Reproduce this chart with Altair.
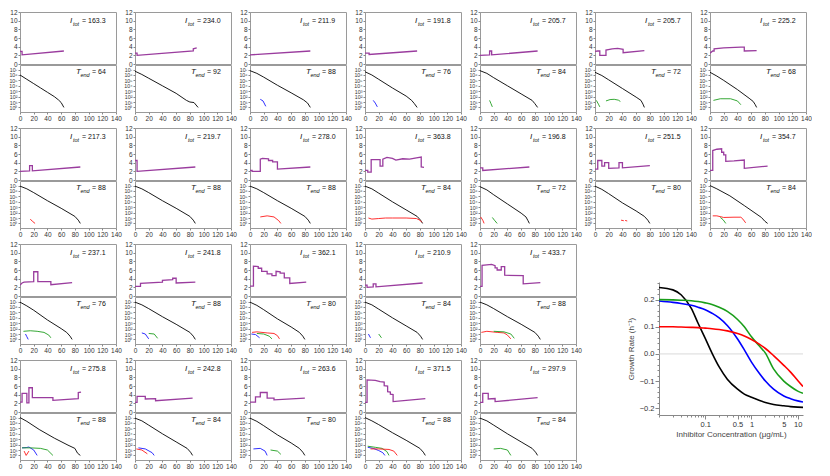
import altair as alt
import pandas as pd

FONT = "Liberation Sans"
PURPLE = "#9a3c9e"
COLS = {"k": "#000000", "b": "#1a1aff", "g": "#1f9e1f", "r": "#ff1a1a"}

itot = [163.3, 234.0, 211.9, 191.8, 205.7, 205.7, 225.2,
        217.3, 219.7, 278.0, 363.8, 196.8, 251.5, 354.7,
        237.1, 241.8, 362.1, 210.9, 433.7,
        275.8, 242.8, 263.6, 371.5, 297.9]
tend = [64, 92, 88, 76, 84, 72, 68,
        88, 88, 88, 84, 72, 80, 84,
        76, 88, 80, 84, 88,
        88, 84, 80, 88, 84]

dose = [
    [(0, 2.9), (3, 2.9), (3, 2.1), (64, 3.0)],
    [(0, 2.5), (3, 2.5), (3, 2.0), (85, 3.0), (85, 3.5), (90, 3.7)],
    [(0, 2.1), (88, 3.0)],
    [(0, 2.5), (6, 2.5), (6, 2.2), (76, 3.0)],
    [(0, 2.0), (14, 2.1), (14, 3.0), (17, 3.0), (17, 2.1), (84, 3.0)],
    [(0, 2.9), (4, 3.0), (7, 3.0), (7, 2.0), (16, 2.0), (16, 3.2), (25, 3.5), (33, 3.6), (41, 3.4), (41, 2.6), (72, 3.1)],
    [(0, 2.5), (4, 3.0), (6, 3.0), (6, 3.5), (20, 3.7), (45, 3.9), (50, 3.9), (50, 3.0), (68, 3.1)],
    [(0, 2.0), (14, 2.1), (14, 3.3), (18, 3.3), (18, 2.1), (88, 3.0)],
    [(0, 4.5), (3, 4.5), (3, 2.0), (88, 3.0)],
    [(0, 2.2), (3, 2.2), (3, 2.0), (15, 2.0), (15, 4.8), (18, 5.0), (27, 4.9), (27, 4.5), (33, 4.5), (33, 4.2), (40, 4.2), (40, 2.5), (88, 3.0)],
    [(0, 2.2), (4, 2.2), (4, 1.8), (9, 1.8), (9, 4.7), (22, 4.7), (22, 3.2), (26, 3.2), (26, 4.8), (32, 5.2), (40, 5.0), (45, 4.6), (55, 4.9), (65, 4.8), (75, 5.1), (82, 5.3), (82, 3.0), (86, 2.9)],
    [(0, 2.8), (4, 2.8), (4, 2.2), (72, 3.0)],
    [(0, 2.5), (4, 2.5), (4, 4.5), (10, 4.5), (10, 3.2), (14, 3.2), (14, 4.0), (20, 4.0), (20, 2.7), (35, 2.8), (35, 4.0), (40, 4.0), (40, 2.8), (80, 3.3)],
    [(0, 2.2), (4, 2.2), (4, 6.8), (10, 7.1), (17, 7.2), (17, 6.4), (20, 6.4), (20, 5.8), (23, 5.8), (23, 4.3), (35, 4.4), (50, 4.6), (50, 2.7), (84, 3.2)],
    [(0, 2.5), (3, 3.0), (6, 3.2), (20, 3.3), (20, 5.6), (26, 5.6), (26, 3.3), (45, 3.3), (45, 2.6), (76, 3.1)],
    [(0, 2.2), (8, 2.2), (8, 2.9), (40, 3.2), (40, 3.6), (55, 3.8), (55, 4.1), (60, 4.1), (60, 3.0), (88, 3.2)],
    [(0, 2.3), (5, 2.3), (5, 6.9), (12, 6.8), (12, 6.4), (17, 6.4), (17, 5.7), (25, 5.7), (25, 5.1), (32, 5.1), (32, 4.7), (38, 4.7), (38, 5.7), (44, 5.6), (44, 5.3), (50, 5.3), (50, 4.2), (58, 4.2), (58, 2.9), (82, 3.2)],
    [(0, 2.5), (3, 2.5), (3, 2.0), (12, 2.1), (12, 2.8), (16, 2.8), (16, 2.1), (84, 3.0)],
    [(0, 2.2), (3, 2.2), (3, 7.1), (10, 7.2), (17, 7.3), (22, 7.0), (22, 6.5), (25, 6.5), (25, 6.0), (31, 6.0), (31, 6.8), (36, 6.8), (36, 4.8), (63, 4.7), (63, 2.8), (88, 3.1)],
    [(0, 2.3), (3, 2.3), (3, 4.3), (10, 4.3), (10, 2.1), (13, 2.1), (13, 5.6), (18, 5.6), (18, 3.3), (48, 3.3), (48, 2.7), (85, 3.1), (85, 4.5), (89, 4.6)],
    [(0, 2.2), (3, 2.2), (3, 3.6), (15, 3.6), (15, 3.0), (30, 3.1), (30, 2.6), (84, 3.2)],
    [(0, 2.3), (8, 2.3), (8, 3.5), (15, 3.5), (15, 4.5), (25, 4.5), (25, 3.2), (35, 3.2), (35, 2.8), (80, 3.2)],
    [(0, 2.2), (3, 2.2), (3, 7.4), (15, 7.3), (22, 7.0), (28, 6.9), (28, 6.1), (33, 6.0), (33, 4.7), (37, 4.6), (37, 4.1), (41, 4.0), (41, 2.4), (88, 3.1)],
    [(0, 2.2), (4, 2.2), (4, 4.3), (12, 4.3), (12, 3.0), (22, 3.1), (22, 2.4), (84, 3.3)],
]

black = [
    [(0, 6.0), (10, 5.2), (20, 4.4), (30, 3.6), (40, 2.8), (50, 2.0), (56, 1.4), (60, 0.9), (64, 0.0)],
    [(0, 6.7), (10, 6.1), (20, 5.4), (40, 4.0), (60, 2.6), (75, 1.3), (80, 1.0), (86, 0.9), (92, 0.0)],
    [(0, 6.8), (10, 6.3), (20, 5.6), (40, 4.1), (60, 2.7), (78, 1.4), (84, 0.8), (88, 0.0)],
    [(0, 6.6), (10, 6.0), (20, 5.2), (40, 3.6), (60, 2.1), (68, 1.3), (72, 0.7), (76, 0.0)],
    [(0, 6.8), (10, 6.3), (20, 5.5), (40, 4.0), (60, 2.5), (76, 1.3), (80, 0.7), (84, 0.0)],
    [(0, 6.5), (10, 5.9), (20, 5.1), (40, 3.5), (60, 1.9), (67, 1.3), (70, 0.6), (72, 0.0)],
    [(0, 6.5), (10, 5.8), (20, 5.0), (40, 3.3), (57, 1.7), (63, 1.1), (66, 0.5), (68, 0.0)],
    [(0, 6.9), (10, 6.4), (20, 5.7), (40, 4.2), (60, 2.8), (80, 1.3), (85, 0.6), (88, 0.0)],
    [(0, 6.9), (10, 6.4), (20, 5.7), (40, 4.2), (60, 2.8), (80, 1.3), (85, 0.6), (88, 0.0)],
    [(0, 6.9), (10, 6.4), (20, 5.7), (40, 4.2), (60, 2.8), (80, 1.3), (85, 0.6), (88, 0.0)],
    [(0, 6.9), (10, 6.4), (20, 5.6), (40, 4.0), (60, 2.5), (76, 1.3), (81, 0.6), (84, 0.0)],
    [(0, 6.8), (10, 6.2), (20, 5.3), (40, 3.6), (60, 1.9), (67, 1.2), (70, 0.5), (72, 0.0)],
    [(0, 6.9), (10, 6.3), (20, 5.5), (40, 3.8), (60, 2.3), (72, 1.3), (77, 0.6), (80, 0.0)],
    [(0, 7.0), (10, 6.4), (29, 5.1), (50, 3.3), (75, 1.1), (80, 0.4), (84, 0.0)],
    [(0, 6.9), (10, 6.2), (20, 5.4), (40, 3.6), (60, 2.0), (68, 1.3), (73, 0.6), (76, 0.0)],
    [(0, 6.9), (10, 6.4), (20, 5.7), (40, 4.2), (60, 2.8), (80, 1.3), (85, 0.6), (88, 0.0)],
    [(0, 6.9), (10, 6.3), (20, 5.5), (40, 3.8), (60, 2.3), (72, 1.3), (77, 0.6), (80, 0.0)],
    [(0, 6.9), (10, 6.4), (20, 5.6), (40, 4.0), (60, 2.5), (76, 1.3), (81, 0.6), (84, 0.0)],
    [(0, 6.9), (10, 6.4), (20, 5.7), (40, 4.2), (60, 2.8), (80, 1.3), (85, 0.6), (88, 0.0)],
    [(0, 7.0), (10, 6.3), (28, 4.8), (50, 3.2), (70, 1.9), (80, 1.3), (84, 0.4), (88, 0.0)],
    [(0, 6.9), (10, 6.4), (20, 5.6), (40, 4.0), (60, 2.5), (76, 1.3), (81, 0.6), (84, 0.0)],
    [(0, 6.9), (10, 6.3), (20, 5.5), (40, 3.8), (60, 2.3), (72, 1.3), (77, 0.6), (80, 0.0)],
    [(0, 7.0), (10, 6.4), (20, 5.7), (40, 4.2), (60, 2.8), (80, 1.3), (85, 0.6), (88, 0.0)],
    [(0, 6.9), (10, 6.4), (20, 5.6), (40, 4.0), (60, 2.5), (76, 1.3), (81, 0.6), (84, 0.0)],
]

extra = [
    [],
    [],
    [("b", [(15, 1.5), (19, 1.2), (23, 0.2)])],
    [("b", [(12, 1.3), (15, 0.8), (18, 0.1)])],
    [("g", [(14, 1.3), (16, 0.7), (18, 0.1)])],
    [("g", [(2, 1.3), (5, 0.6), (7, 0.1)]), ("g", [(16, 1.2), (22, 1.45), (28, 1.5), (34, 1.35), (37, 1.1)])],
    [("g", [(5, 1.3), (15, 1.6), (30, 1.6), (40, 1.2), (45, 0.5)])],
    [("r", [(15, 0.8), (18, 0.4), (22, 0.0)])],
    [],
    [("r", [(15, 1.2), (25, 1.4), (35, 1.2), (42, 0.5), (45, 0.0)])],
    [("r", [(5, 1.0), (10, 0.8), (20, 0.9), (30, 1.0), (40, 1.0), (60, 1.0), (75, 0.9), (80, 0.6), (83, 0.2)])],
    [("r", [(1, 1.2), (4, 0.6), (6, 0.0)]), ("g", [(18, 1.1), (21, 0.6), (25, 0.0)])],
    [("r", [(38, 0.6), (42, 0.5)]), ("r", [(44, 0.55), (47, 0.45)])],
    [("r", [(4, 1.4), (10, 1.4), (20, 1.1), (35, 1.15), (45, 1.15), (48, 0.8), (52, 0.1)]), ("g", [(15, 1.1), (19, 0.7), (23, 0.0)])],
    [("b", [(8, 1.0), (10, 0.5), (12, 0.0)]), ("g", [(5, 1.5), (15, 1.6), (25, 1.5), (35, 1.3), (42, 0.8), (45, 0.3)])],
    [("b", [(10, 1.2), (15, 1.0), (20, 0.1)]), ("g", [(20, 1.1), (28, 1.0), (33, 0.2)])],
    [("r", [(3, 1.3), (10, 1.4), (25, 1.2), (35, 1.1), (40, 0.7), (43, 0.1)]), ("b", [(2, 1.0), (8, 0.9), (14, 0.3)]), ("g", [(10, 1.1), (20, 1.0), (28, 0.6), (32, 0.1)])],
    [("b", [(5, 1.0), (8, 0.3)]), ("g", [(20, 1.0), (24, 0.3)])],
    [("r", [(2, 1.3), (10, 1.5), (25, 1.3), (35, 1.2), (40, 0.8), (45, 0.1)]), ("g", [(20, 1.5), (35, 1.4), (45, 1.0), (50, 0.2)])],
    [("r", [(6, 0.8), (9, 0.0), (13, 0.8)]), ("b", [(3, 1.4), (9, 1.45), (13, 1.55), (20, 1.0), (25, 0.0)]), ("g", [(3, 1.4), (15, 1.4), (30, 1.3), (40, 1.0), (48, 0.0)])],
    [("r", [(2, 1.2), (10, 1.0), (18, 0.3)]), ("b", [(5, 1.4), (15, 1.2), (25, 0.5), (28, 0.0)])],
    [("b", [(5, 1.2), (15, 1.3), (22, 0.8), (25, 0.0)]), ("g", [(30, 1.0), (40, 0.8), (45, 0.2)])],
    [("b", [(4, 1.5), (12, 1.3), (20, 0.9), (26, 0.5), (29, 0.0)]), ("g", [(4, 1.7), (15, 1.5), (25, 1.3), (32, 0.7), (35, 0.0)]), ("r", [(8, 1.2), (20, 1.2), (35, 1.1), (42, 0.8), (47, 0.0)])],
    [("g", [(20, 1.2), (30, 1.3), (40, 1.0), (45, 0.0)])],
]

# Growth-rate panel
conc = [0.01, 0.02, 0.03, 0.05, 0.07, 0.1, 0.14, 0.2, 0.3, 0.5, 0.7, 1, 1.5, 2, 3, 5, 7, 10, 13]
rate_black = [0.245, 0.236, 0.218, 0.168, 0.113, 0.057, 0.003, -0.048, -0.093, -0.13, -0.148, -0.16, -0.172, -0.179, -0.186, -0.191, -0.194, -0.196, -0.197]
rate_blue = [0.195, 0.19, 0.186, 0.179, 0.172, 0.163, 0.15, 0.133, 0.105, 0.055, 0.015, -0.03, -0.073, -0.1, -0.13, -0.155, -0.165, -0.173, -0.177]
rate_green = [0.2, 0.199, 0.198, 0.196, 0.193, 0.188, 0.182, 0.172, 0.157, 0.127, 0.1, 0.063, 0.028, 0.003, -0.055, -0.1, -0.12, -0.137, -0.145]
rate_red = [0.1, 0.1, 0.099, 0.098, 0.097, 0.095, 0.093, 0.09, 0.085, 0.075, 0.066, 0.053, 0.035, 0.02, -0.006, -0.042, -0.067, -0.098, -0.12]

x_ticks = [0.01, 0.02, 0.03, 0.04, 0.05, 0.06, 0.07, 0.08, 0.09,
           0.1, 0.2, 0.3, 0.4, 0.5, 0.6, 0.7, 0.8, 0.9,
           1, 2, 3, 4, 5, 6, 7, 8, 9, 10]
y_ticks = [-0.22, -0.2, -0.18, -0.16, -0.14, -0.12, -0.1, -0.08, -0.06, -0.04, -0.02, 0,
           0.02, 0.04, 0.06, 0.08, 0.1, 0.12, 0.14, 0.16, 0.18, 0.2, 0.22, 0.24, 0.26]

W, HT, HB = 96, 52, 47
SUP = "['⁰','¹','²','³','⁴','⁵','⁶','⁷']"


def txt(s, x, y, size, italic=False):
    kw = dict(align="left", baseline="alphabetic", fontSize=size, font=FONT, color="#111")
    if italic:
        kw["fontStyle"] = "italic"
    return alt.Chart(pd.DataFrame({"s": [s]})).mark_text(**kw).encode(
        text="s:N", x=alt.value(x), y=alt.value(y))


def panel(k):
    d = pd.DataFrame({"t": [p[0] for p in dose[k]], "y": [p[1] for p in dose[k]],
                      "i": list(range(len(dose[k])))})
    top_line = alt.Chart(d).mark_line(color=PURPLE, strokeWidth=1.3, clip=True).encode(
        x=alt.X("t:Q", scale=alt.Scale(domain=[0, 140], nice=False), axis=None),
        y=alt.Y("y:Q", scale=alt.Scale(domain=[0, 12], nice=False),
                axis=alt.Axis(values=list(range(0, 13, 2)), title=None, labelFlush=False,
                              labelOverlap=False)),
        order="i:Q")
    top = alt.layer(top_line,
                    txt("I", 50, 11, 8, True),
                    txt("tot", 53, 13.5, 5.5, True),
                    txt(f"= {itot[k]:.1f}", 62, 11, 7)).properties(width=W, height=HT)

    rows = []
    for j, (t, e) in enumerate(black[k]):
        rows.append({"t": t, "e": e, "sid": "k", "col": COLS["k"], "i": j})
    for m, (c, pts) in enumerate(extra[k]):
        for j, (t, e) in enumerate(pts):
            rows.append({"t": t, "e": e, "sid": f"{c}{m}", "col": COLS[c], "i": j})
    pdf = pd.DataFrame(rows)
    bot_line = alt.Chart(pdf).mark_line(strokeWidth=0.9, clip=True).encode(
        x=alt.X("t:Q", scale=alt.Scale(domain=[0, 140], nice=False),
                axis=alt.Axis(values=list(range(0, 141, 20)), title=None, labelFlush=False,
                              labelOverlap=False)),
        y=alt.Y("e:Q", scale=alt.Scale(domain=[-0.85, 7.85], nice=False),
                axis=alt.Axis(values=list(range(0, 8)), title=None, labelFlush=False,
                              labelOverlap=False, labelFontSize=5.3, labelPadding=1,
                              labelExpr="'10' + " + SUP + "[datum.value]")),
        color=alt.Color("col:N", scale=None),
        detail="sid:N",
        order="i:Q")
    bot = alt.layer(bot_line,
                    txt("T", 56, 9, 8, True),
                    txt("end", 60.5, 11.5, 5.5, True),
                    txt(f"= {tend[k]}", 72, 9, 7)).properties(width=W, height=HB)
    return alt.vconcat(top, bot, spacing=1, bounds="flush")


def row(ks):
    return alt.hconcat(*[panel(k) for k in ks], spacing=1)


brows = []
for name, vals, col in [("black", rate_black, "#000000"), ("blue", rate_blue, "#0000ff"),
                        ("green", rate_green, "#1a9e1a"), ("red", rate_red, "#ff0000")]:
    for c, r in zip(conc, vals):
        brows.append({"c": c, "r": r, "s": name, "col": col})
bdf = pd.DataFrame(brows)

Y_MAJOR = "abs(datum.value*10 - round(datum.value*10)) < 0.001"
X_MAJOR = "indexof([0.1, 0.5, 1, 5, 10], datum.value) >= 0"

ysc = alt.Scale(domain=[-0.225, 0.265], nice=False)
yax = alt.Axis(values=y_ticks, title="Growth Rate (h⁻¹)",
               labelExpr=Y_MAJOR + " ? format(datum.value, '.1f') : ''",
               domain=True, domainColor="#888", labelFontSize=7.5, titleFontSize=8,
               titleFontWeight="normal", titleColor="#444", labelColor="#333",
               labelFlush=False, labelOverlap=False, titlePadding=4,
               tickSize={"condition": {"test": Y_MAJOR, "value": 4}, "value": 2})
zero = alt.Chart(pd.DataFrame({"z": [0]})).mark_rule(color="#cfcfcf", strokeWidth=0.8).encode(
    y=alt.Y("z:Q", scale=ysc, axis=yax))
curves = alt.Chart(bdf).mark_line(strokeWidth=1.6, interpolate="monotone", clip=True).encode(
    x=alt.X("c:Q", scale=alt.Scale(type="log", domain=[0.01, 13], nice=False),
            axis=alt.Axis(values=x_ticks,
                          labelExpr=X_MAJOR + " ? format(datum.value, '~g') : ''",
                          title="Inhibitor Concentration (μg/mL)", domain=True,
                          domainColor="#888", labelFontSize=7.5, titleFontSize=8,
                          titleFontWeight="normal", titleColor="#444", labelColor="#333",
                          labelFlush=False, labelOverlap=False, titlePadding=3,
                          tickSize={"condition": {"test": X_MAJOR, "value": 4}, "value": 2})),
    y=alt.Y("r:Q", scale=ysc, axis=yax),
    color=alt.Color("col:N", scale=None),
    detail="s:N")
big = alt.layer(zero, curves).properties(width=144, height=133,
                                         view=alt.ViewBackground(stroke="transparent"))
spacer = alt.Chart(pd.DataFrame({"a": [0]})).mark_point(opacity=0).encode(
    x=alt.X("a:Q", axis=None), y=alt.Y("a:Q", axis=None)).properties(
    width=144, height=1, view=alt.ViewBackground(stroke="transparent"))

right = alt.vconcat(spacer, big, spacing=37, bounds="flush")
left34 = alt.vconcat(row(range(14, 19)), row(range(19, 24)), spacing=2)
bottom = alt.hconcat(left34, right, spacing=44)

chart = alt.vconcat(row(range(0, 7)), row(range(7, 14)), bottom, spacing=2).properties(
    padding=0).configure_view(
    stroke="#9a9a9a", strokeWidth=1).configure_axis(
    labelFont=FONT, titleFont=FONT, labelFontSize=6.5, labelColor="#333", tickColor="#888",
    domain=False, grid=False, tickSize=2, labelPadding=1).configure_text(font=FONT)

chart.save("out.html", embed_options={"renderer": "svg", "actions": False})
